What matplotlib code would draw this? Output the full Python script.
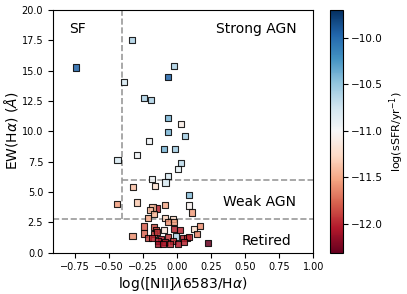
import matplotlib
matplotlib.use('Agg')
import matplotlib.pyplot as plt

# log([NII]/Halpha), EW(Halpha), log(sSFR)
nii_ha = [-0.739, -0.329, -0.024, -0.068, -0.386, -0.244, -0.190, -0.064, 0.029, -0.068,
          0.061, -0.203, -0.095, -0.015, -0.291, -0.437, 0.031, 0.007, -0.068, -0.185,
          -0.084, -0.161, -0.320, 0.090, -0.441, -0.296, -0.146, -0.179, -0.200, -0.088,
          0.086, 0.108, -0.171, -0.214, -0.088, -0.029, -0.020, -0.068, -0.244, -0.166,
          -0.156, -0.093, -0.020, 0.020, -0.244, -0.171, -0.146, 0.122, 0.171, 0.146,
          -0.327, -0.214, -0.185, -0.117, -0.068, -0.005, 0.044, 0.073, 0.090, -0.137,
          -0.088, -0.029, -0.141, -0.102, -0.053, 0.010, 0.053, 0.229]
ew_ha = [15.25, 17.51, 15.41, 14.48, 14.07, 12.75, 12.58, 11.12, 10.60, 9.92,
         9.61, 9.22, 8.56, 8.56, 8.02, 7.63, 7.36, 6.91, 6.34, 6.06,
         5.78, 5.51, 5.38, 4.73, 3.99, 4.13, 3.63, 3.71, 3.48, 3.92,
         3.88, 3.30, 3.15, 2.87, 2.82, 2.76, 2.54, 2.49, 2.15, 2.10,
         1.88, 1.88, 1.94, 1.88, 1.57, 1.50, 1.67, 1.94, 2.21, 1.55,
         1.39, 1.22, 1.17, 1.11, 1.28, 1.32, 1.17, 1.17, 1.28, 0.95,
         0.89, 0.95, 0.68, 0.68, 0.68, 0.68, 0.89, 0.78]
ssfr = [-9.95, -10.6, -10.6, -9.95, -10.8, -10.6, -10.6, -10.4, -11.1, -10.4,
        -10.55, -10.95, -10.4, -10.55, -10.95, -10.8, -10.65, -10.9, -10.8, -10.95,
        -10.8, -11.2, -11.4, -10.45, -11.55, -11.35, -12.0, -11.45, -11.4, -11.5,
        -11.05, -11.55, -11.45, -11.5, -11.3, -11.25, -11.55, -11.6, -11.8, -11.85,
        -11.9, -11.15, -12.0, -12.0, -11.75, -11.9, -11.95, -11.2, -11.6, -11.65,
        -11.6, -11.9, -12.0, -12.05, -11.95, -10.6, -12.0, -11.95, -12.0, -12.05,
        -12.0, -11.95, -12.1, -12.05, -12.0, -12.05, -12.0, -12.3]

fig = plt.figure(figsize=(4.07, 2.94), dpi=100)
ax = fig.add_axes([0.130, 0.141, 0.640, 0.825])
cax = fig.add_axes([0.811, 0.141, 0.032, 0.825])

sc = ax.scatter(nii_ha, ew_ha, c=ssfr, cmap='RdBu', vmin=-12.31, vmax=-9.70,
                marker='s', s=20, edgecolors='k', linewidths=0.8, alpha=0.85, zorder=3)

# WHAN diagram boundaries
ax.plot([-0.4, -0.4], [2.76, 20], '--', color='#999999', lw=1.2, zorder=1)
ax.plot([-0.4, 1.0], [6, 6], '--', color='#999999', lw=1.2, zorder=1)
ax.axhline(2.76, ls='--', color='#999999', lw=1.2, zorder=1)

ax.text(-0.79, 18.4, 'SF', fontsize=10, va='center', ha='left')
ax.text(0.875, 18.4, 'Strong AGN', fontsize=10, va='center', ha='right')
ax.text(0.875, 4.2, 'Weak AGN', fontsize=10, va='center', ha='right')
ax.text(0.84, 0.95, 'Retired', fontsize=10, va='center', ha='right')

ax.set_xlim(-0.91, 1.0)
ax.set_ylim(0, 20)
ax.set_xticks([-0.75, -0.5, -0.25, 0.0, 0.25, 0.5, 0.75, 1.0])
ax.set_yticks([0, 2.5, 5, 7.5, 10, 12.5, 15, 17.5, 20])
ax.tick_params(labelsize=7)
ax.set_xlabel(r'log([NII]$\lambda$6583/H$\alpha$)', fontsize=10, labelpad=2)
ax.set_ylabel(r'EW(H$\alpha$) ($\AA$)', fontsize=10, labelpad=1)

cb = fig.colorbar(sc, cax=cax)
cb.solids.set_alpha(1)
cb.set_ticks([-10.0, -10.5, -11.0, -11.5, -12.0])
cb.ax.tick_params(labelsize=7.5, pad=2)
cb.set_label(r'log(sSFR/yr$^{-1}$)', fontsize=8, labelpad=3)

fig.savefig('out.png', dpi=100)
